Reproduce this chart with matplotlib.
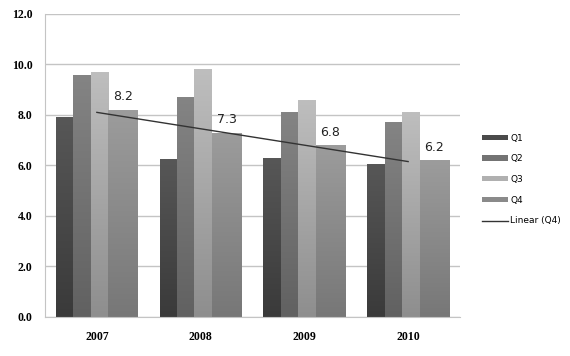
import numpy as np
import matplotlib
matplotlib.use("Agg")
import matplotlib.pyplot as plt
from matplotlib.colors import LinearSegmentedColormap
from matplotlib.patches import Patch
from matplotlib.lines import Line2D

years = ["2007", "2008", "2009", "2010"]
series = ["Q1", "Q2", "Q3", "Q4"]
q1 = [7.9, 6.25, 6.3, 6.05]
q2 = [9.6, 8.7, 8.1, 7.7]
q3 = [9.7, 9.8, 8.6, 8.1]
q4 = [8.2, 7.3, 6.8, 6.2]
yticks = [0.0, 2.0, 4.0, 6.0, 8.0, 10.0, 12.0]

values = [q1, q2, q3, q4]
top_colors = ["#575757", "#848484", "#bebebe", "#9c9c9c"]
bot_colors = ["#3a3a3a", "#616161", "#8e8e8e", "#777777"]
legend_colors = ["#4a4a4a", "#737373", "#b0b0b0", "#8a8a8a"]
offsets = [-0.311, -0.144, 0.023, 0.25]
widths = [0.167, 0.167, 0.167, 0.28]

fig = plt.figure(figsize=(5.7, 3.56), dpi=100)
ax = fig.add_axes([45/570, 1 - 316.7/356, (460-45)/570, (316.7-14)/356])

x = np.arange(len(years))
ax.set_xlim(-0.5, len(years) - 0.5)
ax.set_ylim(0, 12)

for i, (vals, tc, bc, off, w) in enumerate(zip(values, top_colors, bot_colors, offsets, widths)):
    bars = ax.bar(x + off, vals, width=w, color=bc, linewidth=0, zorder=2)
    cmap = LinearSegmentedColormap.from_list("g%d" % i, [bc, tc])
    grad = np.linspace(0, 1, 128).reshape(-1, 1)
    for b in bars:
        x0, y0 = b.get_x(), b.get_y()
        im = ax.imshow(grad, cmap=cmap, origin="lower", aspect="auto",
                       extent=[x0, x0 + b.get_width(), y0, y0 + b.get_height()],
                       zorder=2.5)
        im.set_clip_path(b)

# trendline on Q4
coef = np.polyfit(x, q4, 1)
ax.plot(x, np.polyval(coef, x), color="#333333", lw=1.0, zorder=4)

# data labels on Q4
for xi, v in zip(x, q4):
    ax.text(xi + offsets[3], v + 0.52, f"{v:.1f}", ha="center", va="center",
            fontsize=9, family="DejaVu Sans", color="#222222", zorder=5)

ax.set_xlim(-0.5, len(years) - 0.5)
ax.set_ylim(0, 12)
ax.set_yticks(yticks)
ax.set_yticklabels([f"{t:.1f}" for t in yticks], fontsize=8.5,
                   family="Liberation Serif", fontweight="bold")
ax.set_xticks(x)
ax.set_xticklabels(years, fontsize=8.5, family="Liberation Serif", fontweight="bold")
ax.tick_params(axis="x", length=0, pad=10)
ax.tick_params(axis="y", length=0, pad=9)
ax.grid(axis="y", color="#c4c4c4", lw=1.0, zorder=0)
ax.set_axisbelow(True)
for s in ["top", "right"]:
    ax.spines[s].set_visible(False)
ax.spines["left"].set_color("#c4c4c4")
ax.spines["bottom"].set_color("#c4c4c4")

handles = [Patch(facecolor=c, edgecolor="none") for c in legend_colors]
handles.append(Line2D([0], [0], color="#333333", lw=1.0))
labels = series + ["Linear (Q4)"]
leg = fig.legend(handles, labels, loc="upper left", bbox_to_anchor=(477/570, 1 - 129/356),
                 frameon=False, prop={"family": "DejaVu Sans", "size": 6.5},
                 handlelength=2.9, handleheight=0.5, labelspacing=1.3,
                 handletextpad=0.3, borderpad=0)

fig.savefig("out.png", dpi=100)
